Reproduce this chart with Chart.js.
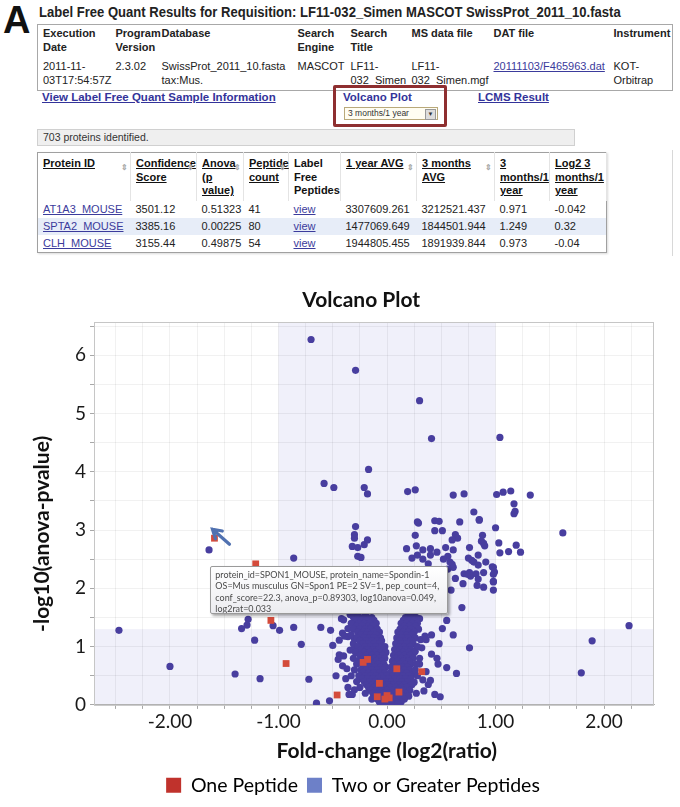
<!DOCTYPE html>
<html>
<head>
<meta charset="utf-8">
<script src="https://cdn.jsdelivr.net/npm/chart.js@4.4.1/dist/chart.umd.min.js"></script>
<style>
  body { margin: 0; width: 680px; height: 807px; background: #fff; position: relative; overflow: hidden; font-family: 'Liberation Sans', Arial, sans-serif; }
  .abs { position: absolute; }
  .panel { font: bold 38px 'Liberation Sans', Arial, sans-serif; color: #111; }
  .ttl { left: 39px; top: 4px; font: bold 14.5px 'Liberation Sans'; color: #222; transform: scaleX(0.9); transform-origin: left top; white-space: nowrap; }
  table { border-collapse: collapse; table-layout: fixed; font-size: 11px; color: #222; }
  td, th { padding: 0 0 0 5px; text-align: left; vertical-align: top; line-height: 13.5px; }
  th { font-weight: bold; }
  #info { left: 37px; top: 24px; width: 635px; border: 1px solid #a8a8a8; }
  #info th { padding-top: 2px; height: 30px; }
  #info td { padding-top: 3px; height: 30px; }
  a { color: #3b3b9c; text-decoration: underline; }
  .lnk { font: bold 11.5px 'Liberation Sans'; color: #33339a; top: 91px; }
  #redbox { left: 333px; top: 85px; width: 108px; height: 36px; border: 3px solid #8e2f30; border-radius: 2px; }
  #sel { left: 344px; top: 107px; width: 89px; height: 11px; border: 1px solid #b9a97a; background: #fffdf2; font: 8.5px 'Liberation Sans'; color: #333; line-height: 11px; padding-left: 3px; }
  #sel span { position: absolute; right: 1px; top: 1px; width: 9px; height: 9px; background: #ddd; border: 1px solid #999; font-size: 6px; line-height: 9px; text-align: center; }
  #count { left: 37px; top: 129px; width: 531px; height: 15px; background: #efefef; border: 1px solid #d0d0d0; font-size: 10.5px; color: #333; line-height: 15px; padding-left: 5px; }
  #prot { left: 37px; top: 152px; width: 569px; border: 1px solid #a0a0a0; box-shadow: 1px 1px 2px rgba(0,0,0,0.15); }
  #prot th { height: 44px; padding-top: 4px; color: #111; border-right: 1px solid #e4e4e4; position: relative; }
  #prot th i { position: absolute; right: 2px; top: 8px; font-style: normal; font-size: 8px; color: #aaa; }
  #prot td { height: 17px; line-height: 17px; }
  #prot tr.alt td { background: #e7edf8; }
  #scroll { left: 672px; top: 150px; width: 1px; height: 106px; background: #d8d8d8; }
  #chartBox { left: 0; top: 270px; width: 680px; height: 537px; }
  #tip { left: 210px; top: 566px; width: 236px; height: 46px; border: 1px solid #9a9a9a; border-radius: 2px; overflow: hidden;
         background: linear-gradient(#ffffff, #ececf0); box-shadow: 2px 2px 3px rgba(0,0,0,0.35); }
  #tip div { font: 10.3px Lato, sans-serif; color: #4a4a4a; line-height: 11.3px; padding: 2px 0 0 5px; white-space: nowrap;
             transform: scaleX(0.87); transform-origin: left top; }
</style>
</head>
<body>
<div class="abs panel" style="left:3px;top:-1px;">A</div>
<div class="abs ttl">Label Free Quant Results for Requisition: LF11-032_Simen MASCOT SwissProt_2011_10.fasta</div>

<table id="info" class="abs">
  <colgroup><col style="width:73px"><col style="width:46px"><col style="width:136px"><col style="width:53px"><col style="width:61px"><col style="width:82px"><col style="width:120px"><col style="width:64px"></colgroup>
  <tr><th>Execution<br>Date</th><th>Program<br>Version</th><th>Database</th><th>Search<br>Engine</th><th>Search<br>Title</th><th>MS data file</th><th>DAT file</th><th>Instrument</th></tr>
  <tr><td>2011-11-<br>03T17:54:57Z</td><td>2.3.02</td><td>SwissProt_2011_10.fasta<br>tax:Mus.</td><td>MASCOT</td><td>LF11-<br>032_Simen</td><td>LF11-<br>032_Simen.mgf</td><td><a>20111103/F465963.dat</a></td><td>KOT-<br>Orbitrap</td></tr>
</table>

<div class="abs lnk" style="left:42px;"><u>View Label Free Quant Sample Information</u></div>
<div class="abs lnk" style="left:343px;">Volcano Plot</div>
<div class="abs lnk" style="left:478px;"><u>LCMS Result</u></div>
<div id="redbox" class="abs"></div>
<div id="sel" class="abs">3 months/1 year<span>&#9660;</span></div>

<div id="count" class="abs">703 proteins identified.</div>

<table id="prot" class="abs">
  <colgroup><col style="width:93px"><col style="width:66px"><col style="width:47px"><col style="width:45px"><col style="width:52px"><col style="width:76px"><col style="width:78px"><col style="width:55px"><col style="width:57px"></colgroup>
  <tr><th><u>Protein ID</u><i>&#8661;</i></th><th><u>Confidence<br>Score</u><i>&#8661;</i></th><th><u>Anova<br>(p<br>value)</u><i>&#8661;</i></th><th><u>Peptide<br>count</u><i>&#8661;</i></th><th>Label<br>Free<br>Peptides</th><th><u>1 year AVG</u><i>&#8661;</i></th><th><u>3 months<br>AVG</u><i>&#8661;</i></th><th><u>3<br>months/1<br>year</u></th><th><u>Log2 3<br>months/1<br>year</u></th></tr>
  <tr><td><a>AT1A3_MOUSE</a></td><td>3501.12</td><td>0.51323</td><td>41</td><td><a>view</a></td><td>3307609.261</td><td>3212521.437</td><td>0.971</td><td>-0.042</td></tr>
  <tr class="alt"><td><a>SPTA2_MOUSE</a></td><td>3385.16</td><td>0.00225</td><td>80</td><td><a>view</a></td><td>1477069.649</td><td>1844501.944</td><td>1.249</td><td>0.32</td></tr>
  <tr><td><a>CLH_MOUSE</a></td><td>3155.44</td><td>0.49875</td><td>54</td><td><a>view</a></td><td>1944805.455</td><td>1891939.844</td><td>0.973</td><td>-0.04</td></tr>
</table>
<div id="scroll" class="abs"></div>

<div class="abs panel" style="left:2px;top:279px;">B</div>
<div id="chartBox" class="abs"><canvas id="volcano" width="680" height="537"></canvas></div>
<div id="tip" class="abs"><div>protein_id=SPON1_MOUSE, protein_name=Spondin-1<br>OS=Mus musculus GN=Spon1 PE=2 SV=1, pep_count=4,<br>conf_score=22.3, anova_p=0.89303, log10anova=0.049,<br>log2rat=0.033</div></div>

<script>
// One peptide proteins (red squares)
const onePepX = [-1.59, -1.21, -1.07, -0.93, -0.46, -0.22, -0.18, 0.09, 0.32, -0.07, 0.00, 0.02, -0.02, 0.11, -0.09];
const onePepY = [2.86, 2.42, 1.45, 0.71, 0.17, 0.73, 0.78, 0.62, 0.57, 0.37, 0.16, 0.12, 0.10, 0.22, 0.14];

// Two or more peptides, scattered points
const twoPepX = [
  -0.70, -0.29, 0.30, 0.41, 1.04, -0.17, -0.58, -0.49,
  -0.21, -0.18, 0.19, 0.26, 0.61, 0.71, 1.01, 1.07,
  1.14, 1.32, 1.17, 1.17, 1.18, 0.80, 0.85, 0.44,
  0.48, 0.28, 0.67, 1.62, 2.23, 1.89, 1.79, -2.47,
  -2.00, -1.64, -1.40, -1.17, -0.72, -1.28, -1.29, -1.34,
  -1.22, -1.05, -0.99, -0.86, -0.79, -0.61, -0.52, -0.65,
  -0.53, -0.35, -0.32, -0.38, -0.45, -0.44, -0.37, -0.44,
  -0.42, -0.40, -0.41, -0.36, -0.36, -0.34, -0.31, -0.30,
  -0.86, -0.40, -0.41, -0.39, -0.29, -0.30, -0.30, -0.32,
  -0.27, -0.21, -0.18, -0.27, -0.24, 0.29, 0.85, 1.00,
  0.26, 0.44, 0.51, 0.63, 0.65, 0.60, 0.88, 0.18,
  0.27, 0.33, 0.40, 0.54, 0.76, 0.87, 0.89, 0.90,
  1.03, 1.04, 1.19, 1.23, 0.23, 0.56, 0.84, 0.75,
  0.78, 0.80, 0.84, 0.91, 0.97, 0.99, 0.60, 0.61,
  0.38, 0.45, 0.63, 0.71, 0.76, 0.77, 0.82, 0.84,
  0.89, 0.98, 0.98, 0.70, 0.83, 0.89, 0.59, 0.69,
  0.51, 0.61, 0.76, 0.41, 0.31, 0.36, 0.32, 0.26,
  0.41, 0.46, 0.55, 0.64, 0.44, 0.49, 0.25, 0.34,
  0.25, 0.28, 0.33, 0.40, 0.46, 0.52, 0.56, 0.98,
  0.98, 0.98, 0.61, 0.58, 0.74, 1.12, -0.34, -0.31,
  0.25, 0.30, 0.35, 0.30, 0.36, 0.38, 0.33, -0.36,
  -0.30, 0.27, 0.40, 0.47, 0.48, -0.47, -0.50, 0.55
];
const twoPepY = [
  6.27, 5.74, 5.22, 4.57, 4.59, 4.04, 3.80, 3.73,
  3.73, 3.62, 3.66, 3.69, 3.60, 3.62, 3.61, 3.65,
  3.67, 3.60, 3.45, 3.28, 3.32, 3.31, 3.18, 3.16,
  3.15, 3.14, 3.14, 2.95, 1.36, 1.10, 0.55, 1.28,
  0.66, 2.66, 0.53, 0.45, 0.44, 1.47, 1.37, 1.31,
  1.11, 1.36, 1.28, 1.33, 1.04, 1.33, 1.28, 0.03,
  0.07, 0.18, 0.18, 0.45, 0.78, 0.86, 0.62, 1.11,
  1.48, 1.46, 1.23, 1.31, 1.17, 0.94, 0.95, 1.13,
  2.52, 0.84, 0.67, 1.18, 3.06, 2.92, 2.86, 2.72,
  2.70, 2.75, 2.83, 2.55, 2.53, 3.12, 3.17, 3.04,
  2.91, 2.99, 2.99, 2.92, 2.86, 2.83, 2.91, 2.68,
  2.73, 2.66, 2.68, 2.70, 2.70, 2.81, 2.77, 2.73,
  2.78, 2.61, 2.74, 2.62, 2.52, 2.55, 2.57, 2.52,
  2.48, 2.45, 2.40, 2.45, 2.37, 2.28, 2.41, 2.36,
  2.42, 2.30, 2.17, 2.25, 2.27, 2.21, 2.25, 2.16,
  2.27, 2.11, 1.97, 2.08, 2.05, 2.02, 1.97, 1.67,
  1.31, 1.20, 0.98, 1.20, 1.12, 1.12, 0.98, 0.92,
  0.87, 0.80, 0.64, 0.54, 0.18, 0.14, 0.39, 0.24,
  0.53, 2.57, 2.50, 2.57, 2.62, 2.50, 2.33, 2.36,
  2.24, 2.12, 2.66, 2.45, 2.24, 2.63, 1.55, 1.51,
  1.53, 1.48, 1.18, 0.70, 0.57, 0.35, 0.43, 0.30,
  0.26, 0.20, 0.42, 0.70, 1.05, 0.50, 1.02, 1.45
];

// Two or more peptides, dense core read row by row (-log10 p of the row, fold changes in it)
const coreRowY = [1.55, 1.50, 1.45, 1.40, 1.35, 1.30, 1.25, 1.20, 1.15, 1.10, 1.05, 1.00, 0.95, 0.90, 0.85, 0.80,
                  0.75, 0.70, 0.65, 0.60, 0.55, 0.50, 0.45, 0.40, 0.35, 0.30, 0.25, 0.20, 0.15, 0.10, 0.05, 0.02];
const coreRowX = [
  [-0.27, -0.20, 0.20, 0.24],
  [-0.27, -0.22, -0.18, -0.14, 0.17, 0.22, 0.27],
  [-0.30, -0.24, -0.19, -0.12, 0.15, 0.20, 0.25],
  [-0.33, -0.26, -0.21, -0.16, -0.10, 0.13, 0.18, 0.23, 0.28],
  [-0.28, -0.23, -0.17, -0.13, 0.16, 0.21, 0.26],
  [-0.31, -0.25, -0.20, -0.15, -0.09, 0.12, 0.17, 0.22, 0.29],
  [-0.27, -0.22, -0.18, -0.12, -0.07, 0.10, 0.15, 0.20, 0.25],
  [-0.33, -0.24, -0.19, -0.15, -0.10, 0.13, 0.18, 0.23],
  [-0.28, -0.21, -0.16, -0.12, -0.06, 0.09, 0.14, 0.19, 0.26],
  [-0.25, -0.19, -0.14, -0.09, -0.05, 0.12, 0.17, 0.22],
  [-0.31, -0.22, -0.17, -0.12, -0.07, 0.08, 0.13, 0.18, 0.24],
  [-0.27, -0.20, -0.15, -0.10, -0.05, -0.02, 0.11, 0.16, 0.21, 0.28],
  [-0.24, -0.18, -0.13, -0.08, -0.03, 0.07, 0.12, 0.17, 0.22],
  [-0.29, -0.21, -0.16, -0.11, -0.06, -0.01, 0.10, 0.15, 0.20, 0.25],
  [-0.25, -0.19, -0.14, -0.09, -0.04, 0.06, 0.11, 0.16, 0.21],
  [-0.31, -0.22, -0.17, -0.12, -0.07, -0.02, 0.08, 0.13, 0.18, 0.24, 0.30],
  [-0.26, -0.20, -0.15, -0.10, -0.05, 0.05, 0.10, 0.15, 0.20],
  [-0.28, -0.23, -0.18, -0.13, -0.08, -0.03, 0.07, 0.12, 0.17, 0.22, 0.27],
  [-0.21, -0.16, -0.11, -0.06, -0.01, 0.04, 0.09, 0.14, 0.19],
  [-0.30, -0.24, -0.19, -0.14, -0.09, -0.04, 0.06, 0.11, 0.16, 0.21, 0.26],
  [-0.22, -0.17, -0.12, -0.07, -0.02, 0.03, 0.08, 0.13, 0.18],
  [-0.33, -0.26, -0.20, -0.15, -0.10, -0.05, 0.00, 0.05, 0.10, 0.15, 0.20, 0.28],
  [-0.23, -0.18, -0.13, -0.08, -0.03, 0.02, 0.07, 0.12, 0.17, 0.22],
  [-0.28, -0.21, -0.16, -0.11, -0.06, -0.01, 0.04, 0.09, 0.14, 0.19],
  [-0.19, -0.14, -0.09, -0.04, 0.01, 0.06, 0.11, 0.16, 0.23],
  [-0.25, -0.17, -0.12, -0.07, -0.02, 0.03, 0.08, 0.13, 0.18],
  [-0.15, -0.10, -0.05, 0.00, 0.05, 0.10, 0.15, 0.21],
  [-0.20, -0.13, -0.08, -0.03, 0.02, 0.07, 0.12, 0.17],
  [-0.11, -0.06, -0.01, 0.04, 0.09, 0.14, 0.20],
  [-0.14, -0.09, -0.04, 0.01, 0.06, 0.11, 0.16],
  [-0.07, -0.02, 0.03, 0.08, 0.13],
  [-0.05, 0.00, 0.05, 0.10]
];

// axis ticks and significance cut-offs
const xTickValues = [-2.5, -2.25, -2, -1.75, -1.5, -1.25, -1, -0.75, -0.5, -0.25, 0, 0.25, 0.5, 0.75, 1, 1.25, 1.5, 1.75, 2, 2.25];
const yTickValues = [0, 0.5, 1, 1.5, 2, 2.5, 3, 3.5, 4, 4.5, 5, 5.5, 6, 6.5];
const foldCut = 1;
const pCut = 1.3;

const seriesNames = ['One Peptide', 'Two or Greater Peptides'];
const pointColors = ['#d44b3b', '#483e9f'];
const legendColors = ['#c0322c', '#6d80c8'];

Chart.defaults.font.family = 'Lato, sans-serif';

const onePts = onePepX.map((x, i) => ({x: x, y: onePepY[i]}));
const twoPts = twoPepX.map((x, i) => ({x: x, y: twoPepY[i]}));
coreRowX.forEach((row, r) => row.forEach(x => twoPts.push({x: x, y: coreRowY[r]})));

const shading = {
  id: 'shading',
  beforeDraw(chart) {
    const {ctx, chartArea: a, scales: {x, y}} = chart;
    const x1 = x.getPixelForValue(-foldCut), x2 = x.getPixelForValue(foldCut), yc = y.getPixelForValue(pCut);
    ctx.save();
    ctx.fillStyle = '#fff';
    ctx.fillRect(0, 0, chart.width, chart.height);
    ctx.fillStyle = '#f0f0fa';
    ctx.fillRect(x1, a.top, x2 - x1, a.bottom - a.top);
    ctx.fillRect(a.left, yc, x1 - a.left, a.bottom - yc);
    ctx.fillRect(x2, yc, a.right - x2, a.bottom - yc);
    ctx.restore();
  },
  beforeDatasetsDraw(chart) {
    const {ctx, chartArea: a} = chart;
    ctx.save();
    ctx.strokeStyle = '#c6c6c6';
    ctx.lineWidth = 1;
    ctx.strokeRect(a.left + 0.5, a.top + 0.5, a.right - a.left - 1, a.bottom - a.top);
    ctx.restore();
  },
  afterDatasetsDraw(chart) {
    // arrow pointing at the first one-peptide protein
    const {ctx, scales: {x, y}} = chart;
    const px = x.getPixelForValue(onePepX[0]), py = y.getPixelForValue(onePepY[0]);
    const tx = px - 2, ty = py - 9, sx = px + 15, sy = py + 6;
    const ang = Math.atan2(ty - sy, tx - sx);
    ctx.save();
    ctx.strokeStyle = '#5071b0';
    ctx.lineWidth = 3.2;
    ctx.lineCap = 'round';
    ctx.beginPath();
    ctx.moveTo(sx, sy);
    ctx.lineTo(tx, ty);
    ctx.moveTo(tx + 10 * Math.cos(ang + 2.6), ty + 10 * Math.sin(ang + 2.6));
    ctx.lineTo(tx, ty);
    ctx.lineTo(tx + 10 * Math.cos(ang - 2.6), ty + 10 * Math.sin(ang - 2.6));
    ctx.stroke();
    ctx.restore();
  }
};

new Chart(document.getElementById('volcano'), {
  type: 'scatter',
  data: {
    datasets: [
      {label: seriesNames[0], data: onePts, pointStyle: 'rect', pointRadius: 4.8, pointHoverRadius: 4.8,
       backgroundColor: pointColors[0], borderWidth: 0},
      {label: seriesNames[1], data: twoPts, pointStyle: 'circle', pointRadius: 3.6, pointHoverRadius: 3.6,
       backgroundColor: pointColors[1], borderWidth: 0}
    ]
  },
  options: {
    responsive: false,
    animation: false,
    events: [],
    layout: {padding: {left: 26, right: 0, top: 0, bottom: 2}},
    plugins: {
      // trailing spaces nudge the centred titles to where the original sits
      title: {display: true, text: 'Volcano Plot     ', fullSize: false, color: '#111',
              font: {size: 21, weight: 'bold'}, padding: {top: 17.4, bottom: 9.4}},
      legend: {
        position: 'bottom',
        labels: {
          color: '#222', font: {size: 19.5}, boxWidth: 15, boxHeight: 15, padding: 9,
          generateLabels: chart => chart.data.datasets.map((ds, i) => ({
            text: ds.label, fillStyle: legendColors[i], strokeStyle: legendColors[i], lineWidth: 0, hidden: false, datasetIndex: i
          }))
        }
      },
      tooltip: {enabled: false}
    },
    scales: {
      x: {
        type: 'linear', min: -2.7, max: 2.46,
        afterFit: s => { s.height = 61.6; },
        afterBuildTicks: s => { s.ticks = xTickValues.map(v => ({value: v})); },
        ticks: {autoSkip: false, maxRotation: 0, padding: 1.6, color: '#1a1a1a', font: {size: 19},
                callback: v => Number.isInteger(v) ? v.toFixed(2) : ''},
        grid: {color: 'rgba(0,0,0,0.055)', tickLength: 4, tickColor: '#a8a8a8'},
        border: {color: '#b0b0b0'},
        title: {display: true, text: '     Fold-change (log2(ratio)', color: '#111', font: {size: 21, weight: 'bold'},
                padding: {top: 0, bottom: 3}}
      },
      y: {
        type: 'linear', min: 0, max: 6.57,
        afterFit: s => { s.width = 68; },
        afterBuildTicks: s => { s.ticks = yTickValues.map(v => ({value: v})); },
        ticks: {autoSkip: false, padding: 4, color: '#1a1a1a', font: {size: 19},
                callback: v => Number.isInteger(v) ? String(v) : ''},
        grid: {color: 'rgba(0,0,0,0.055)', tickLength: 4, tickColor: '#a8a8a8'},
        border: {color: '#a0a0a0'},
        title: {display: true, text: '-log10(anova-pvalue)        ', color: '#111', font: {size: 21, weight: 'bold'},
                padding: {top: 3.4, bottom: 0}}
      },
      // empty right-hand axis: keeps the plot's right margin so the legend centres like the original
      yRight: {
        type: 'linear', position: 'right', min: 0, max: 6.57,
        afterFit: s => { s.width = 26; },
        grid: {display: false}, border: {display: false}, ticks: {display: false}
      }
    }
  },
  plugins: [shading]
});
</script>
</body>
</html>
